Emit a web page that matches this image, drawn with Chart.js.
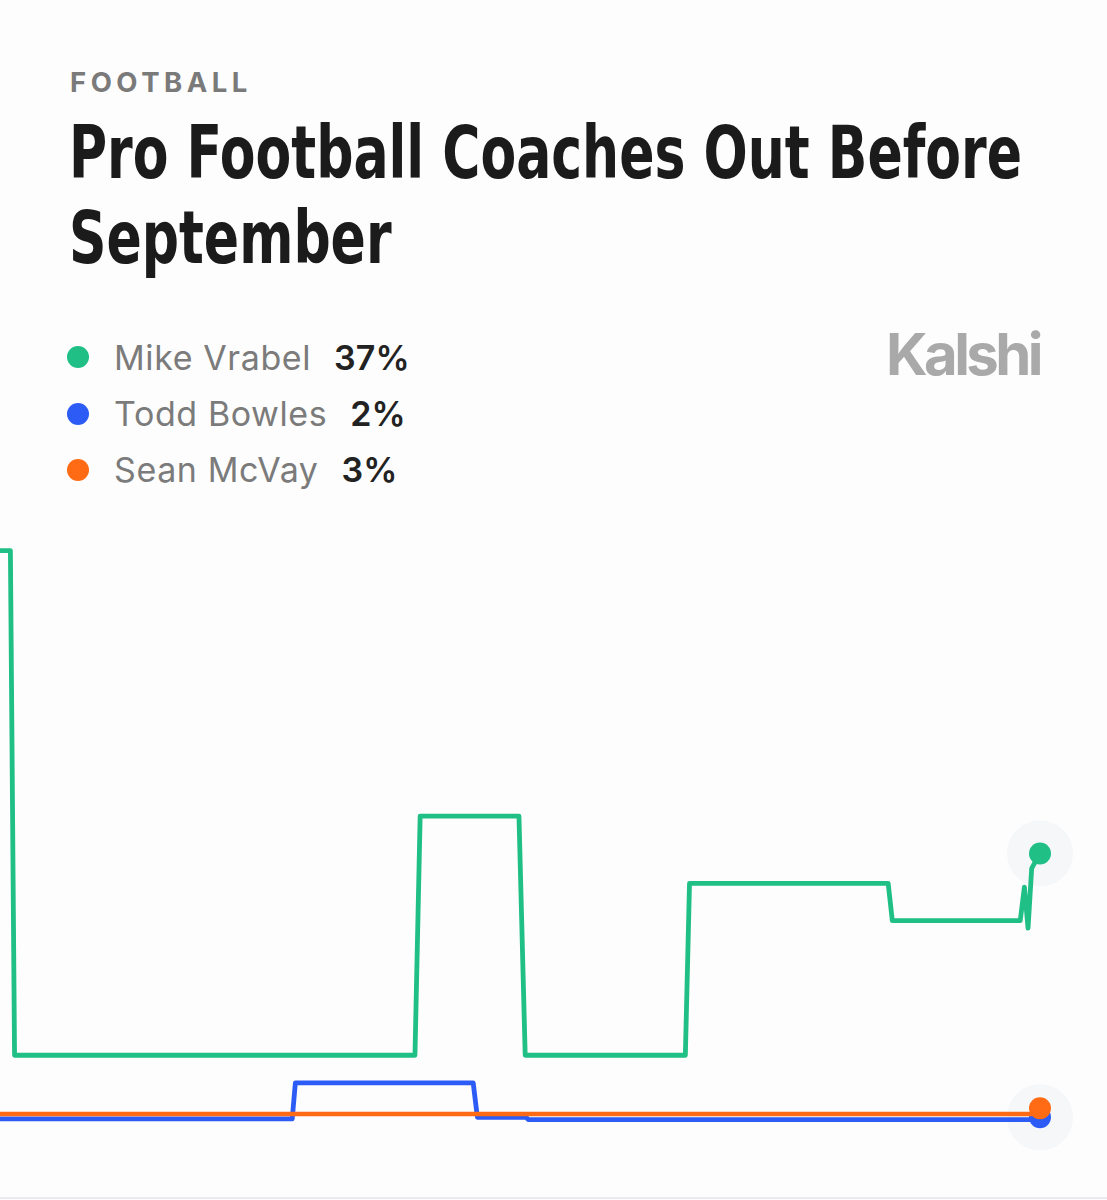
<!DOCTYPE html>
<html>
<head>
<meta charset="utf-8">
<script src="https://cdn.jsdelivr.net/npm/chart.js@4.4.1/dist/chart.umd.min.js"></script>
<style>
  html, body { margin: 0; padding: 0; background: #fdfdfd; }
  body { width: 1107px; height: 1200px; position: relative; overflow: hidden; font-family: Inter, "Noto Sans", sans-serif; }
  .kicker { position: absolute; left: 70px; top: 69px; font-size: 27.5px; line-height: 1; font-weight: 700; color: #7a7a7a; letter-spacing: 4.5px; }
  .title { position: absolute; left: 69px; top: 110px; margin: 0; font-family: "Liberation Sans Narrow", "DejaVu Sans Condensed", "Liberation Sans", sans-serif; font-weight: 700; font-size: 73px; line-height: 85px; color: #1b1b1b; white-space: nowrap; }
  .title span { display: inline-block; transform-origin: 0 50%; }
  .row { position: absolute; left: 114px; font-size: 34px; line-height: 1; color: #7b7b7b; white-space: nowrap; letter-spacing: 0.6px; }
  .row b { color: #222; font-weight: 600; margin-left: 23px; letter-spacing: 0.1px; }
  .dot { position: absolute; width: 22px; height: 22px; border-radius: 50%; }
  .logo { position: absolute; left: 886px; top: 325px; font-size: 58px; line-height: 1; font-weight: 700; color: #a9a9a9; letter-spacing: -3.6px; }
  #wrap { position: absolute; left: 0; top: 500px; width: 1107px; height: 700px; }
  .baseline { position: absolute; left: 0; top: 1197px; width: 1107px; height: 2px; background: #e9e9ee; }
</style>
</head>
<body>
<div class="kicker">FOOTBALL</div>
<h1 class="title"><span id="t1">Pro Football Coaches Out Before</span><br><span id="t2">September</span></h1>
<div id="legend"></div>
<div class="logo">Kalshi</div>
<div id="wrap"><canvas id="c" width="1107" height="700"></canvas></div>
<div class="baseline"></div>
<script>
// ---- data (x = day index within the shown period, y = chance in %) ----
const seriesNames = ["Mike Vrabel", "Todd Bowles", "Sean McVay"];
const seriesColors = ["#1fbf86", "#2c5cf5", "#ff6a14"];
const currentValues = ["37%", "2%", "3%"];

const vrabelX = [0, 1.0, 1.4, 39.9, 40.4, 49.9, 50.5, 65.9, 66.3, 85.4, 85.8, 98.1, 98.5, 98.85, 99.2, 100];
const vrabelY = [77.5, 77.5, 10, 10, 42, 42, 10, 10, 33, 33, 28, 28, 32.5, 27, 35, 37];

const bowlesX = [0, 28.1, 28.4, 45.5, 45.9, 50.6, 50.8, 99.2, 100];
const bowlesY = [1.5, 1.5, 6.3, 6.3, 1.7, 1.7, 1.4, 1.4, 1.7];

const mcvayX = [0, 99.2, 100];
const mcvayY = [2.15, 2.15, 2.9];

// ---- legend ----
const legend = document.getElementById('legend');
seriesNames.forEach((n, i) => {
  const top = 340.6 + i * 56;
  const d = document.createElement('div');
  d.className = 'dot';
  d.style.background = seriesColors[i];
  d.style.left = '67px';
  d.style.top = (357 + i * 56.5 - 11) + 'px';
  legend.appendChild(d);
  const r = document.createElement('div');
  r.className = 'row';
  r.style.top = top + 'px';
  r.innerHTML = n + '<b>' + currentValues[i] + '</b>';
  legend.appendChild(r);
});

// ---- title width fit ----
function fitTitle() {
  const t1 = document.getElementById('t1'), t2 = document.getElementById('t2');
  t1.style.transform = t2.style.transform = 'none';
  const w = t1.getBoundingClientRect().width;
  const s = 953 / w;
  t1.style.transform = t2.style.transform = 'scaleX(' + s + ')';
}
fitTitle();
if (document.fonts && document.fonts.ready) document.fonts.ready.then(fitTitle);

// ---- chart ----
const toPts = (xs, ys) => xs.map((x, i) => ({ x: x, y: ys[i] }));
const lastOnly = (n, r) => (ctx) => ctx.dataIndex === n - 1 ? r : 0;

const haloPlugin = {
  id: 'halo',
  beforeDatasetsDraw(chart) {
    const ctx = chart.ctx;
    ctx.save();
    [0, 2].forEach(i => {
      const meta = chart.getDatasetMeta(i);
      const el = meta.data[meta.data.length - 1];
      ctx.beginPath();
      ctx.arc(el.x, el.y, 33, 0, Math.PI * 2);
      ctx.fillStyle = 'rgba(232,234,240,0.35)';
      ctx.fill();
    });
    ctx.restore();
  }
};

new Chart(document.getElementById('c'), {
  type: 'line',
  data: {
    datasets: [
      { label: seriesNames[0], data: toPts(vrabelX, vrabelY), borderColor: seriesColors[0], backgroundColor: seriesColors[0],
        borderWidth: 4.8, pointRadius: lastOnly(vrabelX.length, 11), pointBorderWidth: 0, pointHoverRadius: 0 },
      { label: seriesNames[2], data: toPts(mcvayX, mcvayY), borderColor: seriesColors[2], backgroundColor: seriesColors[2],
        borderWidth: 4.6, pointRadius: lastOnly(mcvayX.length, 11), pointBorderWidth: 0, pointHoverRadius: 0 },
      { label: seriesNames[1], data: toPts(bowlesX, bowlesY), borderColor: seriesColors[1], backgroundColor: seriesColors[1],
        borderWidth: 4.8, pointRadius: lastOnly(bowlesX.length, 11), pointBorderWidth: 0, pointHoverRadius: 0 }
    ]
  },
  options: {
    responsive: false,
    animation: false,
    events: [],
    layout: { autoPadding: false, padding: { left: 0, right: 67, top: 32, bottom: 70 } },
    elements: { line: { tension: 0, borderJoinStyle: 'round', borderCapStyle: 'round' } },
    scales: {
      x: { type: 'linear', min: 0, max: 100, display: false },
      y: { type: 'linear', min: 0, max: 80, display: false }
    },
    plugins: { legend: { display: false }, tooltip: { enabled: false } },
    clip: false
  },
  plugins: [haloPlugin]
});
</script>
</body>
</html>
